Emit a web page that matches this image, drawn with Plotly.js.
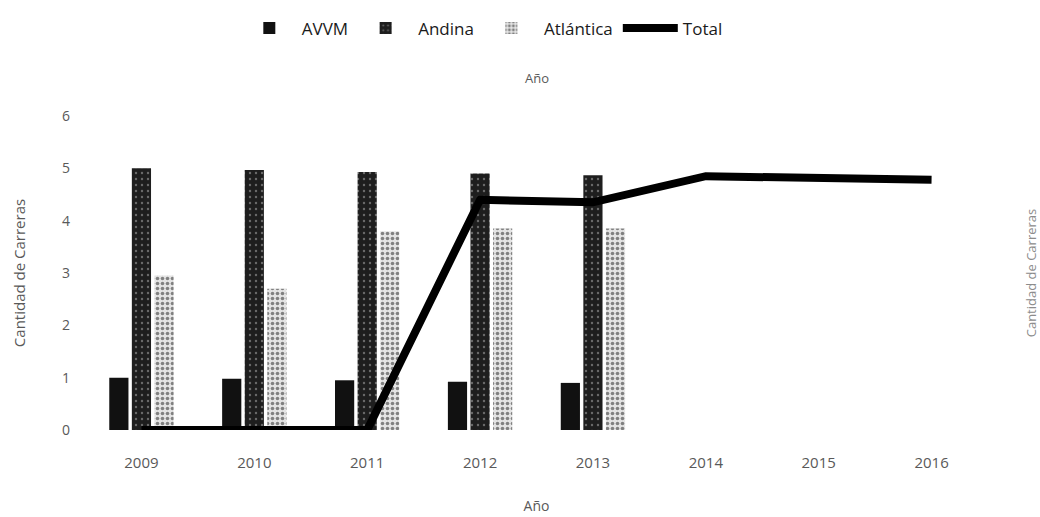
<!DOCTYPE html>
<html>
<head>
<meta charset="utf-8">
<script src="https://cdn.plot.ly/plotly-3.0.1.min.js"></script>
<style>html,body{margin:0;padding:0;background:#fff}#chart{width:1040px;height:517px}</style>
</head>
<body>
<div id="chart"></div>
<script>
var barYears = ['2009', '2010', '2011', '2012', '2013'];
var allYears = ['2009', '2010', '2011', '2012', '2013', '2014', '2015', '2016'];
var avvm = [1, 0.98, 0.95, 0.92, 0.9];
var andina = [5, 4.97, 4.93, 4.9, 4.87];
var atlantica = [2.95, 2.7, 3.8, 3.85, 3.85];
var total = [0, 0, 0, 4.4, 4.35, 4.85, 4.8, 4.78];

var font = 'Open Sans, Noto Sans, Liberation Sans, sans-serif';

var traces = [
  {type: 'bar', name: 'AVVM', x: barYears, y: avvm, marker: {color: '#111111'}},
  {type: 'bar', name: 'Andina', x: barYears, y: andina, marker: {color: '#222222',
     pattern: {shape: '.', fgcolor: '#6a6a6a', bgcolor: '#1e1e1e', size: 6, solidity: 0.12}}},
  {type: 'bar', name: 'Atlántica', x: barYears, y: atlantica, marker: {color: '#c8c8c8',
     pattern: {shape: '.', fgcolor: '#808080', bgcolor: '#e4e4e4', size: 5, solidity: 0.4}}},
  {type: 'scatter', mode: 'lines', name: 'Total', x: allYears, y: total, yaxis: 'y2',
     line: {color: '#000000', width: 8}}
];

var layout = {
  width: 1040, height: 517,
  margin: {l: 85, r: 52, t: 116, b: 87},
  paper_bgcolor: '#ffffff', plot_bgcolor: '#ffffff',
  font: {family: font, color: '#595959', size: 13},
  barmode: 'group', bargap: 0.4, bargroupgap: 0.15,
  showlegend: true,
  legend: {orientation: 'h', x: 0.44, xanchor: 'center', y: 0.98, yref: 'container', yanchor: 'top',
           font: {family: font, size: 17, color: '#1a1a1a'}, itemwidth: 55, traceorder: 'normal'},
  xaxis: {type: 'category', categoryarray: allYears, categoryorder: 'array', range: [-0.5, 7.5],
          showgrid: false, zeroline: false, showline: false, ticks: '', ticklabelstandoff: 22,
          tickfont: {family: font, size: 15, color: '#595959'},
          title: {text: 'Año', font: {family: font, size: 14, color: '#595959'}, standoff: 30}},
  yaxis: {range: [0, 6], dtick: 1, showgrid: false, zeroline: false, showline: false, ticks: '',
          ticklabelstandoff: 14, tickfont: {family: font, size: 14, color: '#595959'},
          title: {text: 'Cantidad de Carreras', font: {family: font, size: 15, color: '#595959'}, standoff: 32}},
  yaxis2: {overlaying: 'y', side: 'right', range: [0, 6], showgrid: false, zeroline: false,
           showline: false, showticklabels: false, ticks: '',
           title: {text: 'Cantidad de Carreras', font: {family: font, size: 13, color: '#8c8c8c'}, standoff: 40}},
  annotations: [
    {text: 'Año', xref: 'paper', yref: 'paper', x: 0.5, y: 1.0, yshift: 38, showarrow: false,
     xanchor: 'center', yanchor: 'middle', font: {family: font, size: 13, color: '#595959'}}
  ]
};

Plotly.newPlot('chart', traces, layout, {displayModeBar: false, staticPlot: true});
</script>
</body>
</html>
